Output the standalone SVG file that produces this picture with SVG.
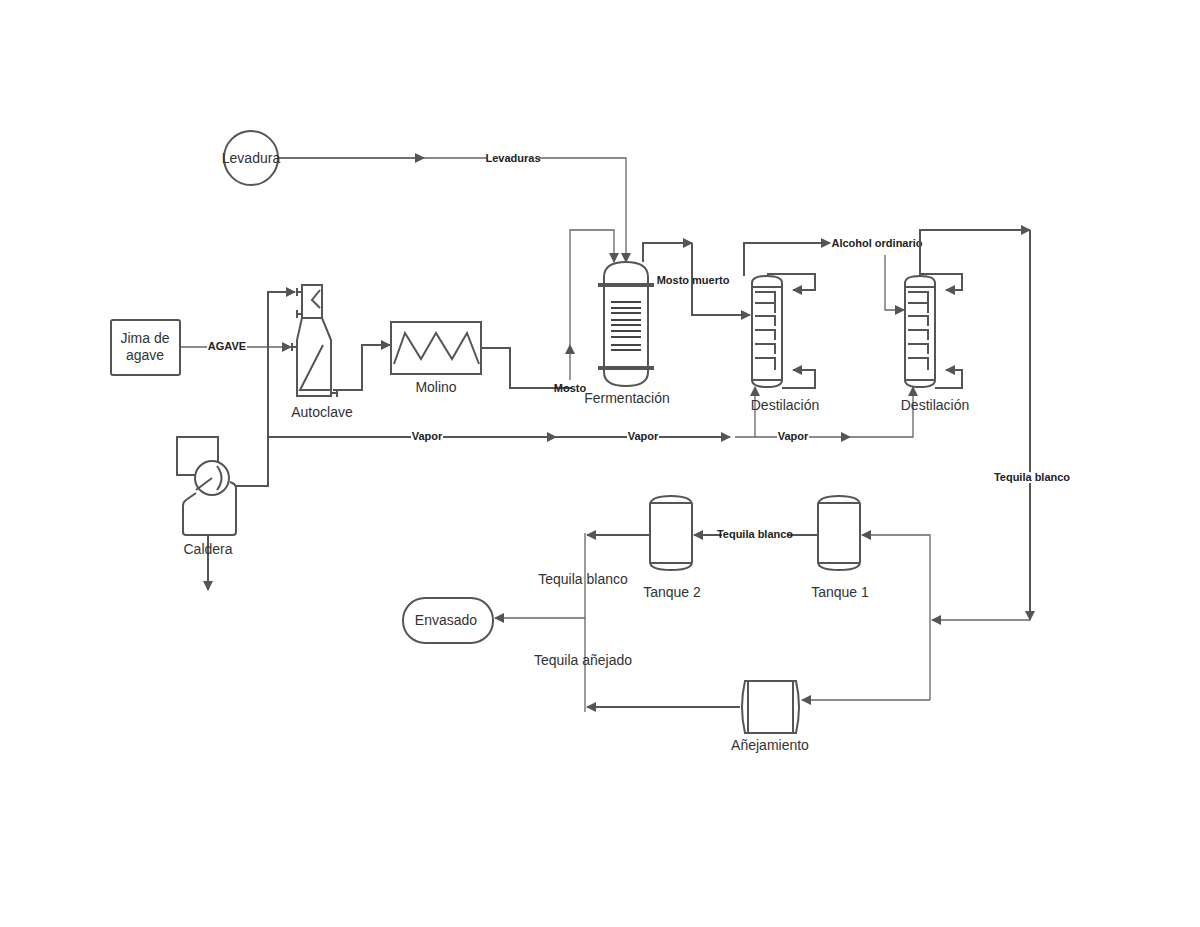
<svg xmlns="http://www.w3.org/2000/svg" width="1200" height="927" viewBox="0 0 1200 927">
<defs>
<marker id="a" viewBox="0 0 10 10" refX="9" refY="5" markerWidth="10" markerHeight="10" markerUnits="userSpaceOnUse" orient="auto"><path d="M0,0 L10,5 L0,10 z" fill="#555"/></marker>
<style>
.s{fill:none;stroke:#555;stroke-width:2}
.t{fill:none;stroke:#666;stroke-width:1.3}
.n{fill:#fff;stroke:#555;stroke-width:2}
text{font-family:"Liberation Sans",Arial,sans-serif;fill:#333}
.l{font-size:14px;text-anchor:middle}
.b{font-size:11px;font-weight:bold;text-anchor:middle;fill:#222}
.bg{fill:#fff}
</style>
</defs>
<rect width="1200" height="927" fill="#fff"/>
<g id="connectors">
<path class="t" d="M278,158 H626 V262" marker-end="url(#a)"/>
<path class="t" d="M278,158 H424" marker-end="url(#a)"/>
<rect class="bg" x="487" y="153" width="52" height="11"/>
<text class="b" x="513" y="162">Levaduras</text>
<path class="t" d="M180,347 H291" marker-end="url(#a)"/>
<rect class="bg" x="207" y="341" width="40" height="11"/>
<text class="b" x="227" y="350">AGAVE</text>
<path class="s" d="M236,486 H268 V292 H295" marker-end="url(#a)"/>
<path class="s" d="M208,535 V590" marker-end="url(#a)"/>
<path class="s" d="M268,437 H556" marker-end="url(#a)"/>
<path class="s" d="M556,437 H730" marker-end="url(#a)"/>
<path class="t" d="M735,437 H850" marker-end="url(#a)"/>
<path class="t" d="M850,437 H913 V387" marker-end="url(#a)"/>
<path class="t" d="M755,437 V387" marker-end="url(#a)"/>
<rect class="bg" x="411" y="431" width="32" height="11"/><text class="b" x="427" y="440">Vapor</text>
<rect class="bg" x="627" y="431" width="32" height="11"/><text class="b" x="643" y="440">Vapor</text>
<rect class="bg" x="777" y="431" width="32" height="11"/><text class="b" x="793" y="440">Vapor</text>
<path class="s" d="M333,390 H362 V345 H390" marker-end="url(#a)"/>
<path class="s" d="M481,348 H510 V388 H572"/>
<text class="b" x="570" y="392">Mosto</text>
<path class="t" d="M570,380 V345" marker-end="url(#a)"/>
<path class="t" d="M570,345 V230 H614 V262" marker-end="url(#a)"/>
<path class="s" d="M643,262 V243 H692" marker-end="url(#a)"/>
<path class="s" d="M692,243 V315 H750" marker-end="url(#a)"/>
<text class="b" x="693" y="284">Mosto muerto</text>
<path class="s" d="M744,276 V243 H830" marker-end="url(#a)"/>
<text class="b" x="877" y="247">Alcohol ordinario</text>
<path class="s" d="M767,274 H815 V290 H793" marker-end="url(#a)"/>
<path class="s" d="M782,388 H815 V370 H793" marker-end="url(#a)"/>
<path class="t" d="M885,255 V310 H904" marker-end="url(#a)"/>
<path class="s" d="M920,274 H962 V290 H946" marker-end="url(#a)"/>
<path class="s" d="M935,388 H962 V370 H946" marker-end="url(#a)"/>
<path class="s" d="M920,278 V230 H1030" marker-end="url(#a)"/>
<path class="s" d="M1030,230 V620" marker-end="url(#a)"/>
<rect class="bg" x="998" y="472" width="68" height="11"/>
<text class="b" x="1032" y="481">Tequila blanco</text>
<path class="t" d="M1030,620 H932" marker-end="url(#a)"/>
<path class="t" d="M930,700 V535 H862" marker-end="url(#a)"/>
<path class="t" d="M930,700 H802" marker-end="url(#a)"/>
<path class="s" d="M818,535 H694" marker-end="url(#a)"/>
<rect class="bg" x="722" y="529" width="66" height="11"/>
<text class="b" x="755" y="538">Tequila blanco</text>
<path class="s" d="M650,535 H587" marker-end="url(#a)"/>
<path class="s" d="M740,707 H587" marker-end="url(#a)"/>
<path class="t" d="M585,533 V712"/>
<path class="t" d="M585,618 H495" marker-end="url(#a)"/>
<text class="l" x="583" y="584">Tequila blanco</text>
<text class="l" x="583" y="665">Tequila añejado</text>
</g>
<g id="levadura"><circle class="n" cx="251" cy="158" r="27"/><text class="l" x="251" y="163">Levadura</text></g>
<g id="jima"><rect class="n" x="111" y="320" width="69" height="55" rx="2"/><text class="l" x="145" y="343">Jima de</text><text class="l" x="145" y="360">agave</text></g>
<g id="autoclave">
<path class="n" d="M302,285 H322 V318 L331,340 V396 H297 V340 L302,318 Z"/>
<path class="s" d="M320,290 L312,300 L320,308 M323,345 L300,390 H331"/>
<path class="s" d="M302,318 H322 M297,292 H302 M297,288 V296 M297,314 H302 M297,310 V318 M292,347 H297 M292,343 V351 M331,393 H337 M337,389 V397"/>
<text class="l" x="322" y="417">Autoclave</text>
</g>
<g id="molino"><rect class="n" x="391" y="322" width="90" height="52"/><path class="s" d="M394,364 L405,333 L421,359 L436,333 L452,359 L467,333 L479,364"/><text class="l" x="436" y="392">Molino</text></g>
<g id="caldera">
<path class="s" d="M200,475 H177 V437 H218 V462"/>
<path class="n" d="M196,493 L186,500 Q183,502 183,506 V532 Q183,535 186,535 H233 Q236,535 236,532 V488 Q236,484 230,482"/>
<circle class="n" cx="212" cy="478" r="17"/>
<path class="s" d="M217,466 Q226,478 217,490 M196,490 L212,478"/>
<text class="l" x="208" y="554">Caldera</text>
</g>
<g id="fermentacion">
<path class="n" d="M604,277 Q604,262 626,262 Q648,262 648,277 V372 Q648,386 626,386 Q604,386 604,372 Z"/>
<path d="M598,285 H654 M598,368 H654" stroke="#555" stroke-width="4"/>
<path d="M611,302 H641 M611,308 H641 M611,313 H641 M611,320 H641 M611,325 H641 M611,331 H641 M611,337 H641 M611,345 H641 M611,350 H641" stroke="#444" stroke-width="2"/>
<text class="l" x="627" y="403">Fermentación</text>
</g>
<g id="destilacion1">
<path class="n" d="M752,283 Q752,276 767,276 Q782,276 782,283 V380 Q782,387 767,387 Q752,387 752,380 Z"/>
<path class="s" d="M752,287 H782 M752,380 H782 M755,292 H775 V302 M755,303 H775 V313 M755,316 H775 V326 M755,330 H775 V340 M755,344 H775 V354 M755,358 H775 V370"/>
<text class="l" x="785" y="410">Destilación</text>
</g>
<g id="destilacion2">
<path class="n" d="M905,283 Q905,276 920,276 Q935,276 935,283 V380 Q935,387 920,387 Q905,387 905,380 Z"/>
<path class="s" d="M905,287 H935 M905,380 H935 M908,292 H928 V302 M908,303 H928 V313 M908,316 H928 V326 M908,330 H928 V340 M908,344 H928 V354 M908,358 H928 V370"/>
<text class="l" x="935" y="410">Destilación</text>
</g>
<g id="tanque1"><path class="n" d="M818,505 Q818,496 839,496 Q860,496 860,505 V562 Q860,570 839,570 Q818,570 818,562 Z"/><path class="s" d="M818,503 H860 M818,563 H860"/><text class="l" x="840" y="597">Tanque 1</text></g>
<g id="tanque2"><path class="n" d="M650,505 Q650,496 671,496 Q692,496 692,505 V562 Q692,570 671,570 Q650,570 650,562 Z"/><path class="s" d="M650,503 H692 M650,563 H692"/><text class="l" x="672" y="597">Tanque 2</text></g>
<g id="anejamiento"><path class="n" d="M745,681 H796 Q802,707 796,733 H745 Q739,707 745,681 Z"/><path class="s" d="M748,681 V733 M793,681 V733"/><text class="l" x="770" y="750">Añejamiento</text></g>
<g id="envasado"><rect class="n" x="403" y="598" width="90" height="45" rx="22"/><text class="l" x="446" y="625">Envasado</text></g>
</svg>
